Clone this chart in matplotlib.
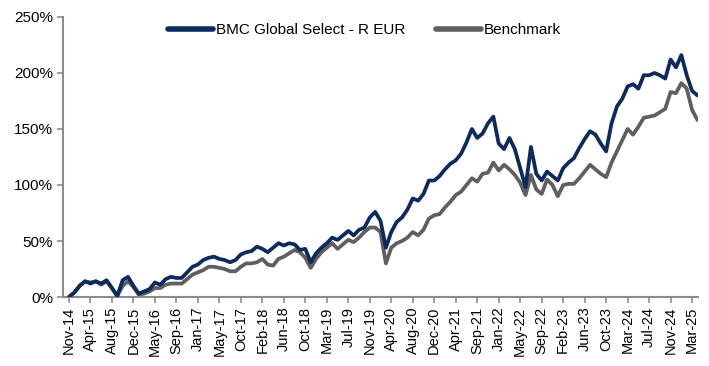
import matplotlib
matplotlib.use("Agg")
import matplotlib.pyplot as plt
import numpy as np

# Tick labels, one every 4 data points
tick_labels = ["Nov-14", "Apr-15", "Aug-15", "Dec-15", "May-16", "Sep-16", "Jan-17",
               "May-17", "Oct-17", "Feb-18", "Jun-18", "Oct-18", "Mar-19", "Jul-19",
               "Nov-19", "Apr-20", "Aug-20", "Dec-20", "Apr-21", "Sep-21", "Jan-22",
               "May-22", "Sep-22", "Feb-23", "Jun-23", "Oct-23", "Mar-24", "Jul-24",
               "Nov-24", "Mar-25"]

# Cumulative performance (%)
fund = [0, 4, 10, 14, 12, 14, 12, 15, 8, 1, 15, 18, 10, 3, 5, 7,
        13, 11, 16, 18, 17, 17, 22, 27, 29, 33, 35, 36, 34, 33, 31, 33,
        38, 40, 41, 45, 43, 40, 44, 48, 46, 48, 47, 42, 43, 31, 39, 44,
        48, 53, 51, 55, 59, 55, 60, 62, 71, 76, 68, 44, 58, 67, 71, 78,
        88, 86, 92, 104, 104, 108, 114, 119, 122, 128, 138, 150, 142, 146, 155, 161,
        137, 132, 142, 132, 115, 98, 134, 110, 104, 112, 108, 104, 115, 120, 124, 133,
        141, 148, 145, 137, 130, 155, 170, 177, 188, 190, 186, 198, 198, 200, 198, 195,
        212, 205, 216, 198, 184, 180]

benchmark = [0, 4, 10, 14, 13, 14, 11, 14, 8, 1, 10, 14, 9, 2, 3, 5,
             8, 8, 11, 12, 12, 12, 16, 20, 22, 24, 27, 27, 26, 25, 23, 23,
             27, 30, 30, 31, 34, 29, 28, 34, 36, 39, 42, 40, 35, 26, 34, 40,
             44, 48, 43, 47, 51, 49, 53, 58, 62, 62, 58, 30, 44, 48, 50, 53,
             58, 55, 60, 70, 73, 74, 80, 85, 91, 94, 100, 106, 103, 110, 111, 120,
             113, 118, 114, 109, 102, 91, 109, 96, 92, 105, 100, 90, 100, 101, 101, 106,
             112, 118, 114, 110, 107, 120, 130, 140, 150, 145, 152, 160, 161, 162, 165, 168,
             183, 182, 191, 186, 167, 158]

NAVY = "#0c2a5e"
GREY = "#5f5f5f"
AXIS = "#8c8c8c"

plt.rcParams["font.family"] = ["Liberation Sans", "DejaVu Sans"]

fig = plt.figure(figsize=(7.09, 3.66), dpi=100)
ax = fig.add_axes([0.0889, 0.1885, 0.8956, 0.7651])

x = np.arange(len(fund))
ax.plot(x, fund, color=NAVY, lw=2.7, solid_joinstyle="round", solid_capstyle="round",
        label="BMC Global Select - R EUR", zorder=3)
ax.plot(x, benchmark, color=GREY, lw=2.7, solid_joinstyle="round", solid_capstyle="round",
        label="Benchmark", zorder=2)

ax.set_xlim(-1.1, len(fund) - 0.9)
ax.set_ylim(0, 250)

ax.set_xticks(np.arange(len(tick_labels)) * 4)
ax.set_xticklabels(tick_labels, rotation=90, fontsize=10.5)
ax.set_yticks(np.arange(0, 251, 50))
ax.set_yticklabels([f"{v}%" for v in range(0, 251, 50)], fontsize=11)

for side in ["top", "right"]:
    ax.spines[side].set_visible(False)
for side in ["left", "bottom"]:
    ax.spines[side].set_color(AXIS)
    ax.spines[side].set_linewidth(1.5)
ax.tick_params(axis="both", direction="out", length=4, width=1.2, color=AXIS,
               labelcolor="black", pad=3)

leg = ax.legend(loc="center", bbox_to_anchor=(0.475, 0.952), ncol=2, frameon=False,
                fontsize=11, handlelength=2.95, handletextpad=0.2, columnspacing=1.96)
for line in leg.get_lines():
    line.set_linewidth(4)

fig.savefig("out.png", dpi=100)
